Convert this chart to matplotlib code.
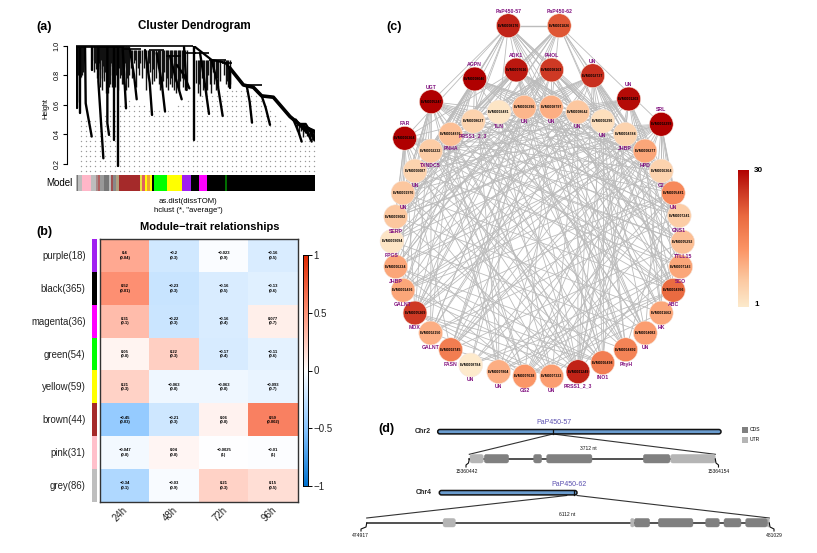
import numpy as np
import matplotlib
matplotlib.use("Agg")
import matplotlib.pyplot as plt
from matplotlib.colors import LinearSegmentedColormap
from matplotlib.patches import FancyBboxPatch

plt.rcParams['font.family'] = ['Liberation Sans', 'DejaVu Sans']
W, H = 817, 553

# ---------- (a) dendrogram data: leaf position / merge height ----------
spine_x = [353, 363, 408, 448, 463, 503, 533, 558, 593, 643, 673, 718]
spine_h = [1.0, .982, .903, .885, .847, .734, .718, .66, .651, .52, .464, .418]
branches = [
    ([4, 4], [1.0, .575]), ([13, 13], [.99, .542]), ([28, 30, 48], [1.0, .61, .385]),
    ([50, 50], [1.0, .835]), ([68, 68, 83], [.99, .757, .238]), ([95, 95, 100], [.99, .475, .396]),
    ([116, 116], [.99, .362]), ([128, 128], [.99, .186]), ([141, 151], [.98, .576]),
    ([163, 175, 183], [.97, .80, .637]), ([208, 222, 229], [.97, .75, .531]),
    ([243, 258, 268], [.95, .75, .554]), ([283, 300, 318], [.93, .78, .637]),
    ([303, 325, 341], [.87, .80, .711]), ([325, 333], [.99, .70]), ([355, 355], [.99, .362]),
    ([373, 385, 400], [.95, .78, .538]), ([408, 425, 441], [.90, .75, .524]),
    ([463, 463], [.847, .711]), ([513, 522, 529], [.73, .62, .479]),
    ([558, 570, 583], [.66, .58, .464]), ([653, 668, 678], [.50, .42, .351]),
    ([683, 698, 708], [.46, .40, .351]), ([700, 712, 716], [.44, .40, .36]),
    ([660, 680, 700], [.50, .44, .40]), ([670, 690, 714], [.47, .47, .38]),
]
comb1_x = [2, 5, 7, 9, 11, 13, 15, 17, 19, 21, 23, 25, 54, 56, 58, 60, 62, 64, 66, 68, 70, 72, 74, 76, 78, 80,
           82, 84, 86, 88, 90, 92, 94, 96, 98, 100, 102, 104, 106, 108, 110, 112, 114, 116, 118, 120, 122, 124,
           126, 130, 132, 134, 136, 138, 140, 142, 144, 146, 148, 150, 152, 154, 156, 158, 160]
comb1_h = [.80, .62, .80, .84, .80, .78, .79, .84, .80, .88, .82, .90, .90, .82, .88, .84, .95, .78, .86, .80, .88, .84,
           .72, .90, .78, .70, .86, .82, .76, .82, .68, .84, .88, .68, .80, .72, .86, .74, .88, .80, .72, .85, .74, .82,
           .72, .86, .80, .84, .70, .85, .78, .86, .80, .74, .82, .74, .86, .80, .88, .70, .85, .78, .82, .72, .80]
comb2_x = [166, 170, 174, 178, 182, 186, 190, 194, 200, 206, 212, 216, 220, 224, 228, 232, 236, 240, 246, 250, 254, 258, 262,
           266, 270, 274, 278, 282, 286, 290, 294, 298, 302, 306, 310, 314, 318, 322, 328, 334]
comb2_h = [.85, .78, .88, .90, .72, .85, .80, .88, .78, .85, .70, .78, .88, .82, .74, .84, .76, .78, .85, .74, .70, .72, .76,
           .82, .72, .78, .70, .74, .78, .72, .70, .76, .68, .72, .70, .76, .78, .72, .70, .72]
comb3_x = [362, 366, 370, 374, 378, 382, 386, 390, 394, 398, 402, 406, 412, 416, 420, 424, 428, 432, 446, 450, 454, 458, 462]
comb3_h = [.75, .68, .74, .66, .78, .70, .72, .66, .70, .80, .74, .68, .82, .74, .70, .78, .72, .76, .80, .74, .76, .72, .74]
comb4_x = [664, 670, 676, 682, 688, 694, 698, 702, 706, 710, 714, 716]
comb4_h = [.42, .40, .42, .38, .41, .39, .40, .36, .38, .36, .39, .37]
comb4_t = [.47, .46, .45, .45, .44, .44, .43, .43, .43, .42, .42, .42]
comb_tops = [1.0, .97, .90]
link_x0 = [0, 0, 140, 220, 270, 330, 353, 400, 440, 503]
link_x1 = [353, 145, 195, 265, 315, 360, 400, 450, 470, 558]
link_h = [1.0, .99, .98, .97, .93, .95, .95, .90, .885, .734]
envelope_x = [0, 60, 160, 260, 360, 420, 480, 520, 580, 650, 718]
envelope_h = [.50, .52, .63, .55, .65, .68, .71, .70, .60, .42, .36]
strip_edges = [0, 4, 8, 18, 47, 60, 66, 73, 85, 99, 105, 111, 121, 129, 193, 198, 208, 215, 223, 229,
               235, 273, 320, 347, 369, 393, 448, 454, 718]
strip_colors = ['#b8b8b8', '#777777', '#bdbdbd', '#ffb6c8', '#bdbdbd', '#a88a8a', '#b06060', '#999999',
                '#777777', '#bdbdbd', '#a05050', '#888888', '#b0a080', '#a52a2a', '#e8e040', '#e06060',
                '#ffff00', '#f0a030', '#ffff00', '#000000', '#00ff00', '#ffff00', '#a020f0', '#000000',
                '#ff00ff', '#000000', '#006e00', '#000000']
height_ticks = [0.2, 0.4, 0.6, 0.8, 1.0]

# ---------- (b) module-trait data ----------
modules = ['purple(18)', 'black(365)', 'magenta(36)', 'green(54)', 'yellow(59)', 'brown(44)', 'pink(31)', 'grey(86)']
module_colors = ['#a020f0', '#000000', '#ff00ff', '#00ff00', '#ffff00', '#a52a2a', '#ffc0cb', '#bebebe']
traits = ['24h', '48h', '72h', '96h']
cor = np.array([[.4, -.2, -.023, -.16], [.52, -.23, -.16, -.13], [.31, -.22, -.16, .077], [.05, .22, -.17, -.11],
                [.21, -.063, -.063, -.093], [-.45, -.21, .06, .59], [-.047, .04, -.0025, -.01], [-.34, -.03, .21, .15]])
cor_txt = [['0.4', '\u22120.2', '\u22120.023', '\u22120.16'], ['0.52', '\u22120.23', '\u22120.16', '\u22120.13'],
           ['0.31', '\u22120.22', '\u22120.16', '0.077'], ['0.05', '0.22', '\u22120.17', '\u22120.11'],
           ['0.21', '\u22120.063', '\u22120.063', '\u22120.093'], ['\u22120.45', '\u22120.21', '0.06', '0.59'],
           ['\u22120.047', '0.04', '\u22120.0025', '\u22120.01'], ['\u22120.34', '\u22120.03', '0.21', '0.15']]
pval = [['0.04', '0.3', '0.9', '0.5'], ['0.01', '0.3', '0.5', '0.6'], ['0.1', '0.3', '0.4', '0.7'], ['0.8', '0.3', '0.4', '0.6'],
        ['0.3', '0.8', '0.8', '0.7'], ['0.03', '0.3', '0.8', '0.002'], ['0.8', '0.8', '1', '1'], ['0.1', '0.9', '0.3', '0.5']]

# ---------- (c) network data ----------
node_x = [508.3, 559.3, 516.3, 551.7, 592.7, 474.7, 628.7, 431.3, 661.3, 404.7, 499, 524.3, 551.3, 577.7, 602.7, 625.3,
          473.3, 450.7, 430.7, 645, 415, 661.3, 403, 673.3, 395.7, 679.3, 392, 682.7, 395.7, 680.7, 403, 673.3,
          415, 661.3, 430.7, 645.3, 450.7, 625.7, 470.7, 602.7, 498.7, 578, 524.7, 551.7]
node_y = [25.7, 25.7, 70, 70, 75.7, 79, 99, 101.7, 124.3, 138.3, 112, 107.3, 107.3, 112, 121.3, 134.3,
          121.3, 134.3, 151, 151, 171, 171, 193, 193, 216.7, 215.7, 241.3, 242, 266.7, 266.7, 290.3, 290.3,
          313, 313, 333, 333, 349.7, 349.7, 365, 362.7, 371.7, 371.7, 376.3, 376.3]
node_deg = [27, 22, 28, 25, 26, 30, 29, 30, 30, 30, 2, 9, 10, 7, 3, 5,
            5, 8, 6, 11, 5, 5, 7, 15, 7, 6, 2, 8, 11, 11, 11, 20,
            25, 11, 10, 12, 17, 16, 1, 17, 10, 27, 13, 12]
node_name = ['PaP450-57', 'PaP450-62', 'ADK1', 'PHOL', 'UN', 'AGPN', 'UN', 'UGT', 'SRL', 'FAR', 'TLN', 'UN', 'UN', 'UN', 'UN', 'JHBP',
             'PRSS1_2_3', 'PNHA', 'TXNDC5', 'HPD', 'UN', 'C2', 'UN', 'UN', 'SERP', 'GNS1', 'FPGS', 'TTLL15', 'JHBP', 'SCO', 'GALNT', 'ABC',
             'MOX', 'HK', 'GALNT', 'UN', 'FASN', 'PhyH', 'UN', 'INO1', 'UN', 'PRSS1_2_3', 'GS2', 'UN']
node_id = ['EVM0008176', 'EVM0011826', 'EVM0007616', 'EVM0008163', 'EVM0002737', 'EVM0008046', 'EVM0001203', 'EVM0005247',
           'EVM0002299', 'EVM0006364', 'EVM0003481', 'EVM0006396', 'EVM0008797', 'EVM0008642', 'EVM0006296', 'EVM0004784',
           'EVM0008627', 'EVM0004876', 'EVM0002232', 'EVM0008277', 'EVM0006087', 'EVM0006364', 'EVM0001976', 'EVM0005481',
           'EVM0009082', 'EVM0007241', 'EVM0009094', 'EVM0005292', 'EVM0006234', 'EVM0007143', 'EVM0001436', 'EVM0004956',
           'EVM0005269', 'EVM0011662', 'EVM0002150', 'EVM0004083', 'EVM0003745', 'EVM0004492', 'EVM0008784', 'EVM0006498',
           'EVM0007804', 'EVM0011249', 'EVM0007638', 'EVM0007333']
edge_steps = [17, 9, 23, 14, 11, 19, 21, 7, 16, 13, 20, 18, 10, 22, 12, 15, 8, 6]

# ---------- (d) gene structure data (nt from gene start) ----------
gene1_len = 3712
gene1_cds = [(226, 594), (971, 1091), (1167, 1851), (2626, 3028)]
gene1_utr = [(10, 211), (3038, 3712)]
gene2_len = 6112
gene2_cds = [(4063, 4296), (4427, 4953), (5146, 5353), (5424, 5682), (5753, 6082)]
gene2_utr = [(1159, 1346), (4007, 4058), (6082, 6112)]
chr2_len = 37.7
chr2_gene = 15.362
chr4_len = 0.495
chr4_gene = 0.4835


def px_axes(x0, y0, x1, y1, **kw):
    return fig.add_axes([x0 / W, 1 - y1 / H, (x1 - x0) / W, (y1 - y0) / H], **kw)


fig = plt.figure(figsize=(W / 100, H / 100), dpi=100, facecolor='white')
ov = px_axes(0, 0, W, H)
ov.set_xlim(0, W)
ov.set_ylim(H, 0)
ov.axis('off')

# ---------- panel letters ----------
for s, x, y in [('(a)', 44, 27), ('(b)', 44.7, 232), ('(c)', 394.3, 27.3), ('(d)', 386.7, 429)]:
    ov.text(x, y, s, fontsize=9, fontweight='bold', ha='center', va='center')

# ---------- (a) ----------
ax = px_axes(75.7, 45.6, 315, 172)
ax.set_xlim(0, 718)
ax.set_ylim(1 - (172 - 45.6) / 118.3 * 0.8, 1.0)
ax.patch.set_alpha(0)
for s in ['top', 'right', 'bottom']:
    ax.spines[s].set_visible(False)
ax.spines['left'].set_position(('outward', 6.5))
ax.spines['left'].set_bounds(0.2, 1.0)
ax.spines['left'].set_linewidth(0.8)
ax.set_xticks([])
ax.set_yticks(height_ticks)
ax.set_yticklabels([f'{v:.1f}' for v in height_ticks], rotation=90, va='center', fontsize=5.2)
ax.tick_params(axis='y', length=3, width=0.8, pad=1.5)
ax.set_ylabel('Height', fontsize=5.2, labelpad=3)
cols = np.arange(15, 718, 14.6)
rows = np.arange(0.15, 0.80, 0.0338)
gx, gy = np.meshgrid(cols, rows)
env = np.interp(gx.ravel(), envelope_x, envelope_h)
keep = gy.ravel() < env
ax.scatter(gx.ravel()[keep], gy.ravel()[keep], s=1.0, c='#9a9a9a', linewidths=0, clip_on=False)
for cx, ch, top in zip((comb1_x, comb2_x, comb3_x), (comb1_h, comb2_h, comb3_h), comb_tops):
    ax.vlines(cx, ch, top, color='#111111', lw=1.0)
ax.vlines(comb4_x, comb4_h, comb4_t, color='#111111', lw=1.0)
ax.hlines(link_h, link_x0, link_x1, color='black', lw=1.2, clip_on=False)
for bx, bh in branches:
    ax.plot(bx, bh, color='black', lw=1.7, solid_capstyle='round')
ax.plot(spine_x, spine_h, color='black', lw=1.6, solid_joinstyle='round')
ax.plot(spine_x[4:], spine_h[4:], color='black', lw=2.6)

sa = px_axes(75.7, 175, 315, 191)
sa.set_xlim(0, 718)
sa.set_ylim(0, 1)
sa.axis('off')
sa.bar(strip_edges[:-1], 1, np.diff(strip_edges), align='edge', color=strip_colors, linewidth=0)
ov.text(59.5, 182.7, 'Model', fontsize=7, ha='center', va='center')
ov.text(188.3, 201.7, 'as.dist(dissTOM)', fontsize=5.6, ha='center', va='center')
ov.text(188.3, 210, 'hclust (*, "average")', fontsize=5.6, ha='center', va='center')
ov.text(194, 25.5, 'Cluster Dendrogram', fontsize=8.4, fontweight='bold', ha='center', va='center')

# ---------- (b) ----------
cmap_b = LinearSegmentedColormap.from_list('bwr_mt', [(0, '#0072d0'), (.25, '#8ac6ff'), (.5, '#ffffff'), (.75, '#ff9478'), (1, '#e02800')])
hm = px_axes(100, 239, 298, 502)
hm.imshow(cor, cmap=cmap_b, vmin=-1, vmax=1, aspect='auto')
hm.set_xticks([])
hm.set_yticks([])
for j, t in enumerate(traits):
    hm.annotate(t, xy=(j, 0), xycoords=('data', 'axes fraction'), xytext=(-3, -8.6), textcoords='offset points',
                rotation=45, ha='center', va='center', fontsize=7, color='#222222', annotation_clip=False)
for s in hm.spines.values():
    s.set_linewidth(1.0)
    s.set_color('#333333')
for i in range(8):
    for j in range(4):
        hm.text(j, i, f'{cor_txt[i][j]}\n({pval[i][j]})', fontsize=3, fontweight='bold', ha='center', va='center', linespacing=1.15)
ms = px_axes(92.3, 239, 97.3, 502)
ms.imshow(np.array([matplotlib.colors.to_rgb(c) for c in module_colors]).reshape(8, 1, 3), aspect='auto')
ms.axis('off')
row_h = (502 - 239) / 8
for i, m in enumerate(modules):
    ov.text(85.7, 239 + row_h * (i + .5) + .5, m, fontsize=6.9, ha='right', va='center', color='#222222')
ov.text(210, 227.3, 'Module\u2212trait relationships', fontsize=8, fontweight='bold', ha='center', va='center')
cb = px_axes(303, 255, 308, 486)
cb.imshow(np.linspace(1, -1, 256).reshape(-1, 1), cmap=cmap_b, vmin=-1, vmax=1, aspect='auto', extent=[0, 1, -1, 1])
cb.set_xticks([])
cb.yaxis.tick_right()
cb.set_yticks([-1, -.5, 0, .5, 1])
cb.set_yticklabels(['\u22121', '\u22120.5', '0', '0.5', '1'], fontsize=7, color='#222222')
cb.tick_params(axis='y', length=3, width=0.7, pad=1)
for s in cb.spines.values():
    s.set_linewidth(0.7)

# ---------- (c) ----------
cmap_c = LinearSegmentedColormap.from_list('deg', [(0, '#fdeacc'), (.2, '#fcc8a0'), (.42, '#fb9465'), (.66, '#ea6a40'), (.86, '#c8301f'), (1, '#b00000')])
n = len(node_x)
edges = set()
for i, d in enumerate(node_deg):
    for s in edge_steps[:max(2, int(d * .55))]:
        a, b = sorted((i, (i + s) % n))
        edges.add((a, b))
for a, b in sorted(edges):
    ov.plot([node_x[a], node_x[b]], [node_y[a], node_y[b]], color='#bcbcbc', lw=0.6, zorder=1)
ov.plot(node_x[:2], node_y[:2], color='#bcbcbc', lw=1.0, zorder=1)
ov.scatter(node_x, node_y, s=295, c=node_deg, cmap=cmap_c, vmin=1, vmax=30, edgecolors='#f6e6dc', linewidths=0.4, zorder=2)
for i in range(n):
    ov.text(node_x[i], node_y[i], node_id[i], fontsize=2.5, fontweight='bold', ha='center', va='center', zorder=3)
    dy = -14.5 if i < 10 else 14.5
    ov.text(node_x[i], node_y[i] + dy, node_name[i], fontsize=3.7, fontweight='bold', color='#80107f', ha='center', va='center', zorder=3)
cc = px_axes(738, 170, 749, 307)
cc.imshow(np.linspace(30, 1, 256).reshape(-1, 1), cmap=cmap_c, vmin=1, vmax=30, aspect='auto')
cc.axis('off')
ov.text(754, 171, '30', fontsize=5.8, fontweight='bold', ha='left', va='center')
ov.text(754, 304, '1', fontsize=5.8, fontweight='bold', ha='left', va='center')


# ---------- (d) ----------
def rbox(x0, x1, yc, h, fc, ec, lw, rad, z=2):
    ov.add_patch(FancyBboxPatch((x0, yc - h / 2), x1 - x0, h, boxstyle=f'round,pad=0,rounding_size={rad}',
                                fc=fc, ec=ec, lw=lw, zorder=z))


def chromosome(x0, x1, y, length, mark):
    rbox(x0, x1, y, 4.4, '#6a9ccf', '#111111', 1.1, 2.2)
    mx = x0 + (x1 - x0) * mark / length
    ov.plot([mx, mx], [y - 2.2, y + 2.2], color='#111111', lw=0.9, zorder=3)
    return mx


def gene(x0, x1, y, length, cds, utr):
    sx = (x1 - x0) / length
    ov.plot([x0, x1], [y, y], color='#222222', lw=1.1, zorder=1)
    for items, col in ((utr, '#b5b5b5'), (cds, '#808080')):
        for s, e in items:
            rbox(x0 + s * sx, x0 + e * sx, y, 8.6, col, col, 0.3, min(2.2, (e - s) * sx / 2.2))


chromosome(437.7, 721, 431.7, chr2_len, chr2_gene)
chromosome(439.3, 577, 492.7, chr4_len, chr4_gene)
gene(469.3, 715.3, 458.7, gene1_len, gene1_cds, gene1_utr)
gene(366.7, 769.3, 522.7, gene2_len, gene2_cds, gene2_utr)
for (x0, y0, x1, y1) in [(469.3, 454.3, 553, 434), (553, 434, 715.3, 454.3), (366.7, 518, 566.7, 495.5), (577, 495.5, 769.3, 518)]:
    ov.plot([x0, x1], [y0, y1], color='#333333', lw=0.8, zorder=1)
for (xs, ys) in [([469.3, 468.5, 466, 466], [459, 463, 465, 467]), ([715.3, 716, 718.5, 718.5], [459, 463, 465, 467]),
                 ([366.7, 366, 361, 361], [523, 527, 529, 531]), ([769.3, 770, 774, 774], [523, 527, 529, 531])]:
    ov.plot(xs, ys, color='#111111', lw=0.8)
for s, x, y, fs, col, fw in [('PaP450-57', 553.7, 422.7, 5, '#5a4fb0', 'normal'), ('PaP450-62', 568.7, 484, 5, '#5a4fb0', 'normal'),
                             ('Chr2', 423, 431.7, 5, '#222222', 'bold'), ('Chr4', 424, 493, 5, '#222222', 'bold'),
                             ('3712 nt', 588.3, 448.7, 3.6, '#111111', 'normal'), ('6112 nt', 567.3, 514.7, 3.6, '#111111', 'normal'),
                             ('15360442', 466.7, 471.7, 3.6, '#111111', 'normal'), ('15364154', 719, 471.7, 3.6, '#111111', 'normal'),
                             ('474917', 360, 535.3, 3.6, '#111111', 'normal'), ('481029', 774.7, 535.3, 3.6, '#111111', 'normal')]:
    ov.text(x, y, s, fontsize=fs, color=col, fontweight=fw, ha='center', va='center')
ov.scatter([745.3], [429.7], marker='s', s=14, c='#808080', linewidths=0)
ov.scatter([745.3], [439.7], marker='s', s=14, c='#b5b5b5', linewidths=0)
ov.text(750, 429.7, 'CDS', fontsize=3.6, va='center')
ov.text(750, 439.7, 'UTR', fontsize=3.6, va='center')

fig.savefig('out.png', dpi=100)
